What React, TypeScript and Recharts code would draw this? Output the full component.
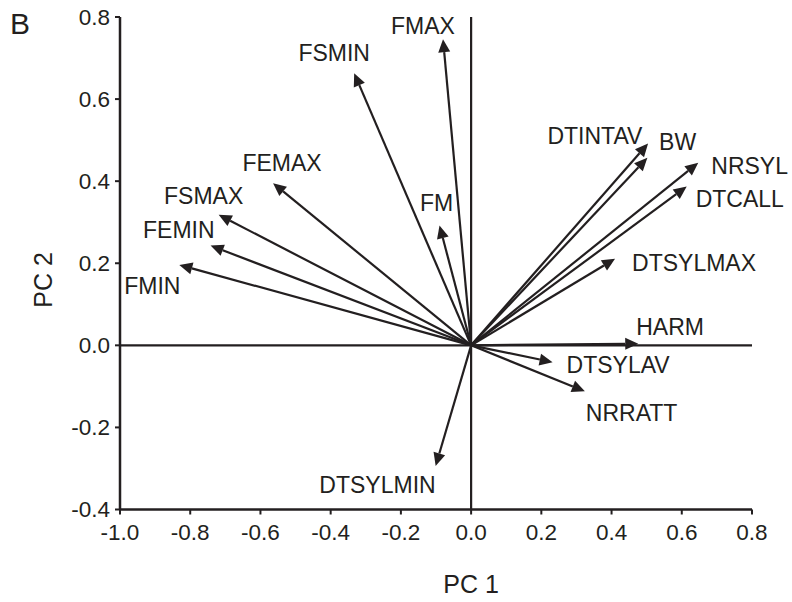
import React from 'react';
import {
	ScatterChart,
	XAxis,
	YAxis,
	ReferenceLine,
	Label,
} from 'recharts';

// loadings (PC 1, PC 2)
const variables = [
	'FMAX', 'FSMIN', 'FEMAX', 'FSMAX', 'FEMIN', 'FMIN', 'FM',
	'BW', 'DTINTAV', 'NRSYL', 'DTCALL', 'DTSYLMAX',
	'HARM', 'DTSYLAV', 'NRRATT', 'DTSYLMIN',
];
const pc1 = [
	-0.08, -0.333, -0.564, -0.719, -0.742, -0.831, -0.09,
	0.504, 0.502, 0.647, 0.614, 0.41,
	0.476, 0.232, 0.324, -0.101,
];
const pc2 = [
	0.746, 0.663, 0.395, 0.318, 0.243, 0.196, 0.292,
	0.492, 0.457, 0.445, 0.387, 0.211,
	0.004, -0.041, -0.112, -0.294,
];

const xTicks = [-1.0, -0.8, -0.6, -0.4, -0.2, 0.0, 0.2, 0.4, 0.6, 0.8];
const yTicks = [-0.4, -0.2, 0.0, 0.2, 0.4, 0.6, 0.8];

// where each label sits relative to its arrow tip (px)
const labelPlacement: Record<string, [number, number, string]> = {
	FMAX: [-20, -13, 'middle'],
	FSMIN: [-20, -20, 'middle'],
	FEMAX: [9, -20, 'middle'],
	FSMAX: [-15, -19, 'middle'],
	FEMIN: [4, -16, 'end'],
	FMIN: [-27, 21, 'middle'],
	FM: [-3, -22, 'middle'],
	BW: [11, -1, 'start'],
	DTINTAV: [-5, -22, 'end'],
	NRSYL: [13, 3, 'start'],
	DTCALL: [9, 12, 'start'],
	DTSYLMAX: [17, 4, 'start'],
	HARM: [-2, -17, 'start'],
	DTSYLAV: [14, 3, 'start'],
	NRRATT: [1, 22, 'start'],
	DTSYLMIN: [0, 19, 'end'],
};

const INK = '#231f20';
const FONT = '"Liberation Sans", Arial, Helvetica, sans-serif';

const Arrow = (props: any) => {
	const { x1, y1, x2, y2, name } = props;
	const ang = Math.atan2(y2 - y1, x2 - x1);
	const len = 13;
	const half = 6;
	const bx = x2 - len * Math.cos(ang);
	const by = y2 - len * Math.sin(ang);
	const px = -Math.sin(ang) * half;
	const py = Math.cos(ang) * half;
	const [dx, dy, anchor] = labelPlacement[name];
	return (
		<g>
			<line x1={x1} y1={y1} x2={bx} y2={by} stroke={INK} strokeWidth={2.2} />
			<polygon
				points={`${x2},${y2} ${bx + px},${by + py} ${bx - px},${by - py}`}
				fill={INK}
			/>
			<text
				x={x2 + dx}
				y={y2 + dy}
				textAnchor={anchor as any}
				dominantBaseline='central'
				fontSize={23}
				fontFamily={FONT}
				fill={INK}
			>
				{name}
			</text>
		</g>
	);
};

export default function App() {
	return (
		<div style={{ position: 'absolute', left: 0, top: 0 }}>
			<ScatterChart
				width={792}
				height={602}
				margin={{ top: 17, right: 40, bottom: 52.5, left: 60 }}
			>
				<XAxis
					type='number'
					dataKey='x'
					domain={[-1.0, 0.8]}
					ticks={xTicks}
					tickFormatter={(v: number) => v.toFixed(1)}
					height={40}
					tickSize={5}
					tickMargin={10}
					axisLine={{ stroke: INK, strokeWidth: 2.5 }}
					tickLine={{ stroke: INK, strokeWidth: 2 }}
					tick={{ fill: INK, fontSize: 22.5, fontFamily: FONT }}
					allowDataOverflow
				/>
				<YAxis
					type='number'
					dataKey='y'
					domain={[-0.4, 0.8]}
					ticks={yTicks}
					tickFormatter={(v: number) => v.toFixed(1)}
					width={60}
					tickSize={5}
					tickMargin={5}
					axisLine={{ stroke: INK, strokeWidth: 2.5 }}
					tickLine={{ stroke: INK, strokeWidth: 2 }}
					tick={{ fill: INK, fontSize: 22.5, fontFamily: FONT }}
					allowDataOverflow
				>
					<Label
						content={() => (
							<text
								x={43}
								y={280}
								transform='rotate(-90 43 280)'
								textAnchor='middle'
								dominantBaseline='central'
								fontSize={25}
								fontFamily={FONT}
								fill={INK}
							>
								PC 2
							</text>
						)}
					/>
					<Label
						content={() => (
							<text
								x={10}
								y={33.5}
								fontSize={30}
								fontFamily={FONT}
								fill={INK}
							>
								B
							</text>
						)}
					/>
				</YAxis>
				<ReferenceLine
					x={0}
					stroke={INK}
					strokeWidth={2.2}
					label={{
						value: 'PC 1',
						position: 'bottom',
						offset: 66,
						fontSize: 25,
						fontFamily: FONT,
						fill: INK,
					}}
				/>
				<ReferenceLine y={0} stroke={INK} strokeWidth={2.2} />
				{variables.map((name, i) => (
					<ReferenceLine
						key={name}
						segment={[
							{ x: 0, y: 0 },
							{ x: pc1[i], y: pc2[i] },
						]}
						ifOverflow='visible'
						shape={(p: any) => <Arrow {...p} name={name} />}
					/>
				))}
			</ScatterChart>
		</div>
	);
}
